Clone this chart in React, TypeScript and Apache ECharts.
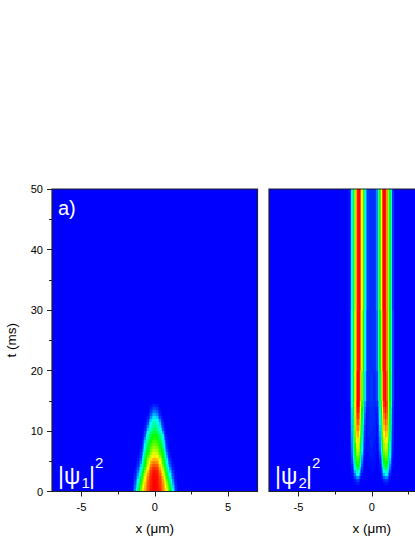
import React, { useEffect, useRef } from "react";
import * as echarts from "echarts";

const COLOR_SCALE = ["#0000ff", "#00ffff", "#00ff00", "#ffff00", "#ff0000"];
const X_MAJOR = [-5, 0, 5];
const X_MAJOR_B = [-5, 0];
const X_MINOR = [-2.5, 2.5];
const HALF_COLUMNS = [0.05, 0.15, 0.25, 0.35, 0.45, 0.55, 0.65, 0.75, 0.85, 0.95, 1.05, 1.15, 1.25, 1.35, 1.45, 1.55];

// Panel a) |psi1|^2: intensity (0-100 of the colour scale) by |x| column, one row per time
const TIMES_A = [0, 0.5, 1, 1.5, 2, 2.5, 3, 3.5, 4, 4.5, 5, 5.5, 6, 6.5, 7, 7.5, 8, 8.5, 9, 9.5, 10, 10.5, 11, 11.5, 12, 12.5, 13, 13.5, 14, 14.5];
const ROWS_A = [
  [100, 99, 98, 96, 92, 88, 83, 78, 70, 60, 50, 37, 24, 13, 5, 1],
  [100, 99, 98, 95, 92, 87, 82, 75, 67, 57, 46, 33, 21, 11, 4, 1],
  [100, 99, 97, 95, 91, 86, 80, 72, 63, 53, 41, 30, 17, 8, 3],
  [100, 99, 97, 94, 90, 84, 77, 68, 58, 48, 36, 25, 13, 6, 2],
  [99, 99, 96, 93, 88, 82, 73, 63, 53, 43, 30, 19, 9, 4, 1],
  [99, 98, 95, 91, 85, 78, 68, 57, 47, 37, 25, 15, 7, 3, 1],
  [98, 97, 94, 88, 81, 73, 62, 51, 41, 31, 20, 11, 5, 2],
  [96, 95, 91, 84, 76, 67, 56, 46, 36, 25, 14, 8, 3, 1],
  [92, 91, 87, 79, 70, 60, 51, 42, 31, 20, 9, 5, 2],
  [87, 86, 83, 75, 67, 56, 48, 38, 27, 14, 7, 3, 1],
  [82, 81, 78, 72, 64, 54, 45, 34, 23, 9, 5, 2],
  [77, 75, 71, 65, 58, 50, 40, 28, 17, 6, 3, 1],
  [72, 70, 65, 58, 52, 47, 36, 24, 12, 5, 2],
  [68, 66, 61, 55, 49, 43, 31, 19, 8, 3, 1],
  [64, 62, 58, 53, 46, 38, 27, 15, 5, 2],
  [60, 58, 54, 49, 42, 34, 24, 11, 4, 1],
  [56, 55, 51, 45, 38, 30, 20, 8, 3, 1],
  [53, 51, 47, 41, 34, 27, 14, 5, 2],
  [50, 48, 44, 38, 30, 24, 8, 3, 1],
  [45, 43, 38, 33, 26, 16, 6, 2],
  [40, 37, 32, 27, 20, 8, 3, 1],
  [37, 34, 29, 23, 14, 6, 2],
  [33, 30, 26, 20, 7, 4, 1],
  [29, 26, 21, 14, 5, 2],
  [23, 20, 14, 7, 3, 1],
  [17, 14, 9, 4, 1],
  [11, 9, 5, 2],
  [7, 5, 3, 1],
  [3, 2, 1],
];

// Panel b) |psi2|^2: same layout, times are row starts
const TIMES_B = [1, 1.5, 2, 2.5, 3, 3.5, 4, 4.5, 5, 5.5, 6, 6.5, 7, 8, 9, 10, 11, 12, 13, 14, 15, 20, 30, 50];
const ROWS_B = [
  [0, 0, 0, 0, 0, 0, 0, 0, 1, 2, 2, 1],
  [0, 0, 0, 0, 0, 0, 0, 1, 4, 6, 5, 2, 1],
  [0, 0, 0, 0, 0, 0, 1, 3, 9, 14, 13, 7, 2],
  [0, 0, 0, 0, 0, 0, 2, 7, 18, 25, 23, 12, 4, 1],
  [1, 0, 0, 0, 0, 1, 4, 12, 26, 33, 30, 18, 7, 2],
  [1, 1, 0, 0, 0, 1, 6, 18, 34, 42, 38, 24, 10, 3],
  [1, 1, 1, 0, 0, 2, 9, 24, 41, 50, 46, 30, 14, 4, 1],
  [1, 1, 1, 0, 0, 3, 12, 29, 46, 54, 50, 35, 18, 6, 1],
  [2, 1, 1, 0, 1, 4, 15, 33, 50, 57, 54, 39, 21, 7, 1],
  [2, 2, 1, 0, 1, 6, 18, 37, 54, 61, 58, 42, 24, 9, 2],
  [2, 2, 1, 1, 2, 8, 22, 40, 58, 65, 62, 46, 27, 10, 2],
  [2, 2, 2, 1, 2, 10, 25, 44, 62, 69, 65, 49, 29, 12, 3],
  [3, 2, 2, 1, 3, 12, 28, 47, 65, 72, 68, 52, 31, 13, 3],
  [3, 3, 2, 1, 4, 15, 33, 53, 70, 78, 74, 57, 36, 15, 4],
  [3, 3, 3, 1, 5, 18, 37, 58, 75, 83, 79, 61, 39, 17, 4],
  [4, 3, 3, 1, 6, 21, 40, 62, 80, 87, 83, 64, 42, 19, 4],
  [4, 4, 3, 2, 8, 24, 43, 66, 84, 91, 86, 67, 44, 20, 5],
  [4, 4, 3, 2, 10, 27, 46, 70, 88, 95, 89, 69, 45, 21, 5],
  [4, 4, 3, 3, 13, 31, 50, 74, 92, 98, 91, 70, 46, 22, 5],
  [5, 4, 4, 5, 16, 36, 55, 78, 96, 100, 93, 73, 50, 26, 6],
  [5, 4, 5, 7, 22, 42, 62, 83, 98, 100, 90, 71, 50, 27, 7, 1],
  [5, 5, 5, 11, 28, 50, 70, 89, 99, 98, 86, 68, 48, 26, 7, 1],
  [5, 5, 6, 14, 32, 55, 75, 92, 100, 98, 85, 65, 46, 24, 5, 1],
];

const FRAME = "#222222";
const TEXT = "#000000";
const FONT = "Liberation Sans";

function buildCells(times: number[], rows: number[][]) {
  const cells: number[][] = [];
  rows.forEach((row, r) => {
    row.forEach((v, c) => {
      if (v <= 0) return;
      const mid = HALF_COLUMNS[c];
      const end = r + 1 < times.length ? times[r + 1] : times[r] + 0.5;
      cells.push([mid - 0.05, mid + 0.05, times[r], end, v]);
      cells.push([-mid - 0.05, -mid + 0.05, times[r], end, v]);
    });
  });
  return cells;
}

function renderCell(params: any, api: any) {
  const a = api.coord([api.value(0), api.value(3)]);
  const b = api.coord([api.value(1), api.value(2)]);
  const x = Math.round(a[0]);
  const y = Math.round(a[1]);
  return {
    type: "rect",
    shape: { x, y, width: Math.max(1, Math.round(b[0]) - x), height: Math.max(1, Math.round(b[1]) - y) },
    style: { fill: api.visual("color") },
  };
}

function xAxes(gridIndex: number, labels: number[]) {
  const base = { gridIndex, type: "value", min: -7, max: 7, position: "bottom", axisLine: { show: false, onZero: false }, splitLine: { show: false } };
  return [
    {
      ...base,
      name: "x (μm)",
      nameLocation: "middle",
      nameGap: 30,
      nameTextStyle: { fontFamily: FONT, fontSize: 13.5, color: TEXT },
      axisTick: { show: true, length: 5, customValues: X_MAJOR, lineStyle: { color: FRAME, width: 1 } },
      axisLabel: { show: true, customValues: labels, margin: 10, fontFamily: FONT, fontSize: 11, color: TEXT },
    },
    {
      ...base,
      axisTick: { show: true, length: 3, customValues: X_MINOR, lineStyle: { color: FRAME, width: 1 } },
      axisLabel: { show: false },
    },
  ];
}

// y is the vertical centre of the text box
function overlayText(text: string, x: number, y: number, size: number) {
  return {
    type: "text",
    x,
    y,
    z: 20,
    style: { text, fill: "#ffffff", font: `${size}px "${FONT}"`, verticalAlign: "middle", align: "left" },
  };
}

function psiLabel(index: string, dx: number) {
  return [
    overlayText("|ψ", 58 + dx, 476, 23),
    overlayText(index, 81.5 + dx, 482, 15),
    overlayText("|", 89 + dx, 476, 23),
    overlayText("2", 95 + dx, 462, 15),
  ];
}

function frame(x: number) {
  return {
    type: "rect",
    z: 19,
    shape: { x, y: 189, width: 205.5, height: 302.5 },
    style: { fill: "none", stroke: FRAME, lineWidth: 1.2 },
  };
}

export default function App() {
  const ref = useRef<HTMLDivElement>(null);
  useEffect(() => {
    document.body.style.margin = "0";
    const chart = echarts.init(ref.current!, null, { renderer: "svg" });
    chart.setOption({
      animation: false,
      backgroundColor: "#ffffff",
      grid: [
        { left: 52, top: 189, width: 205.5, height: 302.5, show: true, backgroundColor: "#0000ff", borderWidth: 0, outerBoundsMode: "none" },
        { left: 269, top: 189, width: 205.5, height: 302.5, show: true, backgroundColor: "#0000ff", borderWidth: 0, outerBoundsMode: "none" },
      ],
      xAxis: [...xAxes(0, X_MAJOR), ...xAxes(1, X_MAJOR_B)],
      yAxis: [
        {
          gridIndex: 0,
          type: "value",
          min: 0,
          max: 50,
          interval: 10,
          name: "t (ms)",
          nameLocation: "middle",
          nameGap: 34,
          nameTextStyle: { fontFamily: FONT, fontSize: 13.5, color: TEXT },
          axisLine: { show: false, onZero: false },
          splitLine: { show: false },
          minorSplitLine: { show: false },
          axisTick: { show: true, length: 5, lineStyle: { color: FRAME, width: 1 } },
          minorTick: { show: true, splitNumber: 2, length: 3, lineStyle: { color: FRAME, width: 1 } },
          axisLabel: { margin: 9, fontFamily: FONT, fontSize: 11, color: TEXT },
        },
        { gridIndex: 1, type: "value", min: 0, max: 50, show: false },
      ],
      visualMap: {
        show: false,
        type: "continuous",
        min: 0,
        max: 100,
        dimension: 4,
        seriesIndex: [0, 1],
        inRange: { color: COLOR_SCALE },
      },
      series: [
        {
          type: "custom",
          xAxisIndex: 0,
          yAxisIndex: 0,
          renderItem: renderCell,
          clip: true,
          silent: true,
          encode: { x: [0, 1], y: [2, 3] },
          data: buildCells(TIMES_A, ROWS_A),
        },
        {
          type: "custom",
          xAxisIndex: 2,
          yAxisIndex: 1,
          renderItem: renderCell,
          clip: true,
          silent: true,
          encode: { x: [0, 1], y: [2, 3] },
          data: buildCells(TIMES_B, ROWS_B),
        },
      ],
      graphic: [
        frame(52),
        frame(269),
        overlayText("a)", 58, 208, 20),
        ...psiLabel("1", 0),
        ...psiLabel("2", 217),
      ],
    });
    return () => chart.dispose();
  }, []);
  return (
    <div style={{ position: "fixed", left: 0, top: 0, width: 415, height: 537, overflow: "hidden" }}>
      <div ref={ref} style={{ width: 500, height: 537 }} />
    </div>
  );
}
